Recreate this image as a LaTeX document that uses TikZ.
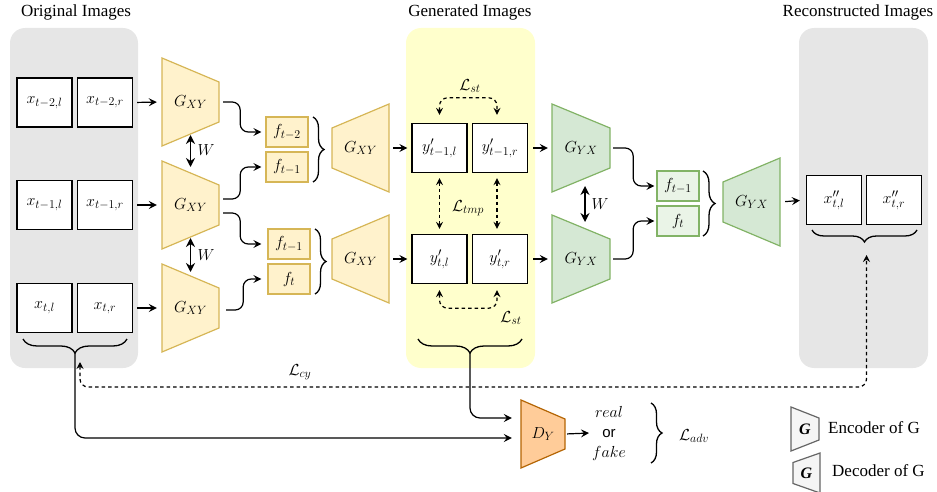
\RequirePackage{fix-cm}
\documentclass[tikz,border=0pt]{standalone}
\usepackage[no-math]{fontspec}
\setmainfont{Liberation Serif}
\setsansfont{Liberation Sans}
\usetikzlibrary{arrows.meta,decorations.pathreplacing,calc}
\DeclareMathSizes{16}{16}{12}{9}
\DeclareMathSizes{17}{17}{12.5}{9.5}

\definecolor{pgray}{HTML}{E6E6E6}
\definecolor{pyel}{HTML}{FFFFCC}
\definecolor{ofill}{HTML}{FFF2CC}
\definecolor{odraw}{HTML}{D6B656}
\definecolor{gfill}{HTML}{D5E8D4}
\definecolor{gdraw}{HTML}{82B366}
\definecolor{gffill}{HTML}{EAF4E7}
\definecolor{dfill}{HTML}{FFCC99}
\definecolor{ddraw}{HTML}{B46504}
\definecolor{lfill}{HTML}{F5F5F5}
\definecolor{ldraw}{HTML}{666666}

\newcommand\mktrap[9]{%
  \filldraw[fill=#7,draw=#8,line width=1.2pt] ({#2-#4},{#3-#5}) -- ({#2+#4},{#3-#6}) -- ({#2+#4},{#3+#6}) -- ({#2-#4},{#3+#5}) -- cycle;
  \node[inner sep=0pt,minimum width={2*#4},minimum height=20] (#1) at (#2,#3) {#9};}

\tikzset{
  every node/.style={font=\fontsize{16}{20}\selectfont},
  img/.style={draw=black, fill=white, line width=1.3pt, minimum width=55, minimum height=49, inner sep=0pt},
  fbox/.style={line width=1.2pt, minimum width=42, minimum height=30, inner sep=0pt},
  panel/.style={rounded corners=15pt},
  arr/.style={-{Stealth[length=8pt,width=8pt,inset=3pt]}, line width=1.2pt},
  warr/.style={{Stealth[length=9pt,width=9pt,inset=3pt]}-{Stealth[length=9pt,width=9pt,inset=3pt]}, line width=1.5pt},
  darr/.style={{Stealth[length=7pt,width=7pt,inset=2.5pt]}-{Stealth[length=7pt,width=7pt,inset=2.5pt]}, line width=1.2pt, dash pattern=on 3.5pt off 3pt},
  brc/.style={decorate, line width=1.3pt},
  ttl/.style={font=\fontsize{17}{20}\selectfont},
}

\begin{document}
\begin{tikzpicture}[x=1pt,y=-1pt]
\useasboundingbox (0,0) rectangle (937,492);

% panels
\fill[pgray, panel] (10,28) rectangle (138,368);
\fill[pyel, panel] (406,28) rectangle (535,368);
\fill[pgray, panel] (799,28) rectangle (928,368);

% titles
\node[ttl] (t1) at (76,12) {Original Images};
\node[ttl] (t2) at (470,12) {Generated Images};
\node[ttl] (t3) at (858,12) {Reconstructed Images};

% original images
\node[img] (xa1) at (44.5,102.5) {$x_{t-2,l}$};
\node[img] (xb1) at (105,102.5) {$x_{t-2,r}$};
\node[img] (xa2) at (44.5,205) {$x_{t-1,l}$};
\node[img] (xb2) at (105,205) {$x_{t-1,r}$};
\node[img] (xa3) at (44.5,308) {$x_{t,l}$};
\node[img] (xb3) at (105,308) {$x_{t,r}$};

% encoders G_XY
\mktrap{g1}{190.5}{102}{28.5}{44}{20}{ofill}{odraw}{$G_{XY}$}
\mktrap{g2}{190.5}{205}{28.5}{44}{20}{ofill}{odraw}{$G_{XY}$}
\mktrap{g3}{190.5}{308}{28.5}{44}{20}{ofill}{odraw}{$G_{XY}$}

% features
\node[fbox, fill=ofill, draw=odraw] (fa1) at (287,132) {$f_{t-2}$};
\node[fbox, fill=ofill, draw=odraw] (fa2) at (287,167) {$f_{t-1}$};
\node[fbox, fill=ofill, draw=odraw] (fb1) at (289,244) {$f_{t-1}$};
\node[fbox, fill=ofill, draw=odraw] (fb2) at (289,279) {$f_{t}$};

% decoders G_XY
\mktrap{m1}{360.5}{148}{28.5}{20}{44}{ofill}{odraw}{$G_{XY}$}
\mktrap{m2}{360.5}{259}{28.5}{20}{44}{ofill}{odraw}{$G_{XY}$}

% generated images
\node[img] (ya1) at (439.5,148) {$y'_{t-1,l}$};
\node[img] (yb1) at (500,148) {$y'_{t-1,r}$};
\node[img] (ya2) at (439.5,259) {$y'_{t,l}$};
\node[img] (yb2) at (500,259) {$y'_{t,r}$};

% encoders G_YX
\mktrap{n1}{581}{148}{29}{44}{20}{gfill}{gdraw}{$G_{YX}$}
\mktrap{n2}{581}{259}{29}{44}{20}{gfill}{gdraw}{$G_{YX}$}

\node[fbox, fill=gffill, draw=gdraw] (fc1) at (678,186) {$f_{t-1}$};
\node[fbox, fill=gffill, draw=gdraw] (fc2) at (678,221) {$f_{t}$};

\mktrap{gr}{751.5}{202}{28.5}{20}{44}{gfill}{gdraw}{$G_{YX}$}

% reconstructed
\node[img] (za) at (834,200) {$x''_{t,l}$};
\node[img] (zb) at (894,200) {$x''_{t,r}$};

% discriminator
\mktrap{dy}{543}{434}{22}{34}{15}{dfill}{ddraw}{$D_{Y}$}
\node[align=center, font=\fontsize{16}{20}\selectfont, inner sep=2pt] (rf) at (609,433) {$real$\\{\fontsize{15}{20}\sffamily or}\\$fake$};

% legend
\mktrap{le}{805}{429}{14}{22}{11}{lfill}{ldraw}{\bfseries\itshape G}
\mktrap{ld}{806.5}{473}{13.5}{10.5}{20}{lfill}{ldraw}{\bfseries\itshape G}
\node[anchor=west, inner sep=0pt, ttl] (lte) at (828,428) {Encoder of G};
\node[anchor=west, inner sep=0pt, ttl] (ltd) at (832,471) {Decoder of G};

% straight arrows
\draw[arr, shorten <=4pt, shorten >=5pt] (xb1.east) -- (g1.west);
\draw[arr, shorten <=4pt, shorten >=5pt] (xb2.east) -- (g2.west);
\draw[arr, shorten <=4pt, shorten >=5pt] (xb3.east) -- (g3.west);
\draw[arr, shorten <=4pt, shorten >=4pt] (m1.east) -- (ya1.west);
\draw[arr, shorten <=4pt, shorten >=4pt] (m2.east) -- (ya2.west);
\draw[arr, shorten <=5pt, shorten >=4pt] (yb1.east) -- (n1.west);
\draw[arr, shorten <=5pt, shorten >=4pt] (yb2.east) -- (n2.west);
\draw[arr, shorten <=5pt, shorten >=6pt] (gr.east) -- (za.west);
\draw[arr, shorten <=2pt, shorten >=1pt] (dy.east) -- (rf.west);

% curved connectors to features
\draw[arr, rounded corners=8pt, shorten <=4pt, shorten >=4pt] (g1.east) -- ++(21,0) |- (fa1.west);
\draw[arr, rounded corners=8pt, shorten <=4pt, shorten >=4pt] ($(g2.east)+(0,-6)$) -- ++(21,0) |- (fa2.west);
\draw[arr, rounded corners=8pt, shorten <=4pt, shorten >=6pt] ($(g2.east)+(0,8)$) -- ++(21,0) |- (fb1.west);
\draw[arr, rounded corners=8pt, shorten <=7pt, shorten >=6pt] ($(g3.east)+(0,2)$) -- ++(24,0) |- (fb2.west);
\draw[arr, rounded corners=8pt, shorten <=3pt, shorten >=2pt] (n1.east) -- ++(23,0) |- (fc1.west);
\draw[arr, rounded corners=8pt, shorten <=3pt, shorten >=2pt] (n2.east) -- ++(23,0) |- (fc2.west);

% weight sharing
\draw[warr] ($(g1)+(0,33)$) -- ($(g2)+(0,-38)$);
\draw[warr] ($(g2)+(0,33)$) -- ($(g3)+(0,-36)$);
\draw[warr] ($(n1)+(4,38)$) -- ($(n2)+(4,-37)$);
\node (w1) at (206,150) {$W$};
\node (w2) at (206,255) {$W$};
\node (w3) at (600,204) {$W$};

% braces
\draw[brc, decoration={brace,amplitude=11pt}] (313,117) -- (313,182);
\draw[brc, decoration={brace,amplitude=11pt}] (315,229) -- (315,294);
\draw[brc, decoration={brace,amplitude=12pt}] (703,171) -- (703,236);
\draw[brc, decoration={brace,amplitude=11pt}] (651,403) -- (651,463);
\draw[brc, decoration={brace,amplitude=14pt}] (127,339) -- (23,339);
\draw[brc, decoration={brace,amplitude=14pt}] (522,339) -- (418,339);
\draw[brc, decoration={brace,amplitude=12pt}] (917,230) -- (812,230);
\coordinate (bl) at (75,353);
\coordinate (by) at (470,353);
\coordinate (br) at (864.5,242);

% losses
\draw[darr, rounded corners=8pt] ($(ya1.north)+(0,-8)$) -- ($(ya1.north)+(0,-25)$) -- ($(yb1.north)+(-3,-25)$) -- ($(yb1.north)+(-3,-8)$);
\node (lst1) at (470,86) {$\mathcal{L}_{st}$};
\draw[darr] ($(ya1.south)+(0,5)$) -- ($(ya2.north)+(0,-5)$);
\draw[darr] ($(yb1.south)+(-3,5)$) -- ($(yb2.north)+(-3,-5)$);
\node (ltmp) at (468,208) {$\mathcal{L}_{tmp}$};
\draw[darr, rounded corners=8pt] ($(ya2.south)+(0,6)$) -- ($(ya2.south)+(0,24)$) -- ($(yb2.south)+(-3,24)$) -- ($(yb2.south)+(-3,6)$);
\node (lst2) at (511,318) {$\mathcal{L}_{st}$};
\draw[darr, rounded corners=8pt] ($(bl)+(5,9)$) |- ($(br)+(2,145)$) -- ($(br)+(2,13)$);
\node (lcy) at (300,372) {$\mathcal{L}_{cy}$};
\node (ladv) at (694,436) {$\mathcal{L}_{adv}$};

% to discriminator
\draw[arr, rounded corners=10pt, shorten >=9pt] (bl) |- ($(dy.west)+(0,4)$);
\draw[arr, rounded corners=10pt, shorten >=9pt] (by) |- ($(dy.west)+(0,-16)$);
\end{tikzpicture}
\end{document}
